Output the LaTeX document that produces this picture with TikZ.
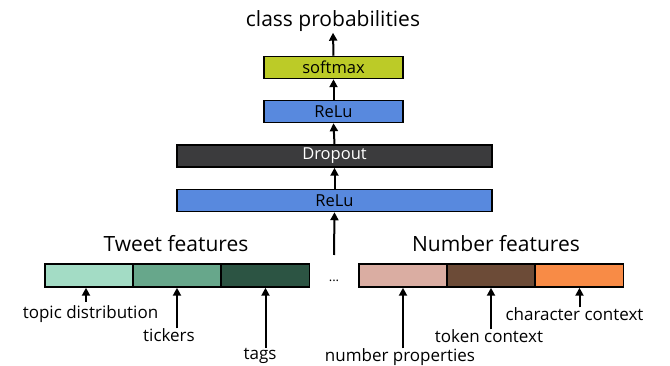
\documentclass[tikz,border=0pt]{standalone}
\usepackage{fontspec}
\setmainfont{Open Sans}
\usetikzlibrary{arrows.meta}
\definecolor{smx}{HTML}{BCCB27}
\definecolor{relu}{HTML}{5889DE}
\definecolor{drop}{HTML}{3B3B3D}
\definecolor{tA}{HTML}{A3DCC5}
\definecolor{tB}{HTML}{67A78B}
\definecolor{tC}{HTML}{2C5443}
\definecolor{nA}{HTML}{DAADA2}
\definecolor{nB}{HTML}{6C4B37}
\definecolor{nC}{HTML}{F88B46}
\begin{document}
\begin{tikzpicture}[x=1pt,y=1pt,
  layer/.style={draw=black,line width=1.5pt,minimum height=22pt,inner sep=0pt,font=\fontsize{16.5}{18}\selectfont},
  seg/.style={draw=black,line width=1.5pt,minimum height=23pt,minimum width=88pt,inner sep=0pt},
  arr/.style={line width=2pt,-{Triangle[width=8pt,length=8pt]}},
  lbl/.style={font=\fontsize{17}{19}\selectfont,inner sep=0pt},
  big/.style={font=\fontsize{21}{24}\selectfont,inner sep=1pt}]
\useasboundingbox (0,0) rectangle (670,366);
% layers (y = 366 - ypx)
\node[big] (cp) at (333,345) {class probabilities};
\node[layer,fill=smx,minimum width=139pt] (smx) at (333.5,298.5) {softmax};
\node[layer,fill=relu,minimum width=139pt] (r2) at (333.5,254.5) {ReLu};
\node[layer,fill=drop,minimum width=315pt,text=white] (dp) at (334.5,210) {Dropout};
\node[layer,fill=relu,minimum width=315pt] (r1) at (334.5,165.5) {ReLu};
\draw[arr] (smx.north) -- (cp.south);
\draw[arr] (r2.north) -- (smx.south);
\draw[arr] (dp.north) -- (r2.south);
\draw[arr] (r1.north) -- (dp.south);
% dots
\node[font=\fontsize{13}{15}\selectfont,inner sep=1pt] (dots) at (334,85) {...};
\coordinate (din) at (334,111);
\draw[arr] (din) -- (r1.south);
% tweet features
\node[big] (tf) at (176,122) {Tweet features};
\node[seg,fill=tA] (t1) at (89,90.5) {};
\node[seg,fill=tB] (t2) at (177,90.5) {};
\node[seg,fill=tC] (t3) at (265.5,90.5) {};
% number features
\node[big] (nf) at (496,122) {Number features};
\node[seg,fill=nA] (n1) at (403,90.5) {};
\node[seg,fill=nB] (n2) at (491,90.5) {};
\node[seg,fill=nC] (n3) at (579.5,90.5) {};
% labels
\node[lbl] (l1) at (90.5,52) {topic distribution};
\node[lbl] (l2) at (169,31) {tickers};
\node[lbl] (l3) at (260,10) {tags};
\node[lbl] (l4) at (400,9) {number properties};
\node[lbl] (l5) at (489,30) {token context};
\node[lbl] (l6) at (574.5,52) {character context};
\coordinate (a1) at (86,64);
\draw[arr] (a1) -- (a1 |- t1.south);
\draw[arr] (l2.north -| t2.south) -- (t2.south);
\draw[arr] (l3.north -| t3.south) -- (t3.south);
\draw[arr] (l4.north -| n1.south) -- (n1.south);
\draw[arr] (l5.north -| n2.south) -- (n2.south);
\draw[arr] (l6.north -| n3.south) -- (n3.south);
\end{tikzpicture}
\end{document}
